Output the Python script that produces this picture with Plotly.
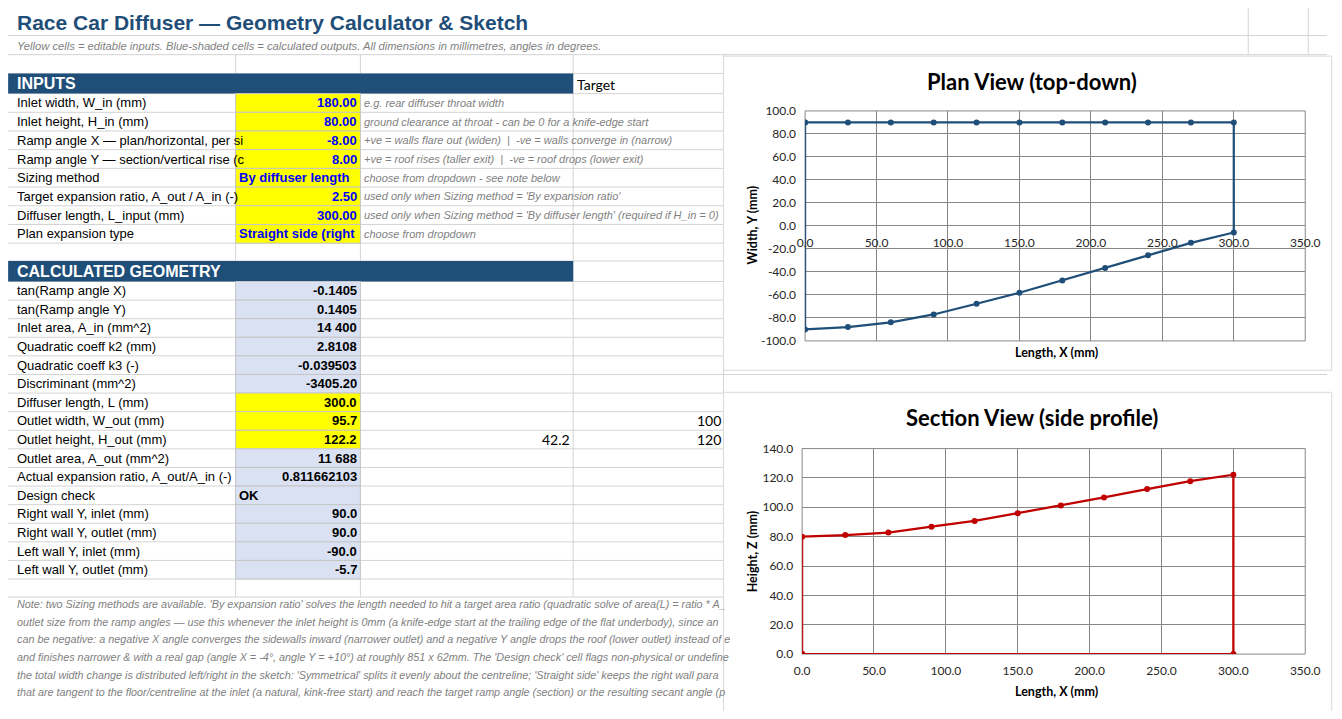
import plotly.graph_objects as go

# the page keeps the browser's 8px body margin, so the figure is drawn smaller
# than the window and every reference pixel position is shifted by OFF
PAGE_W, PAGE_H = 1342, 719
OFF = 8
W, H = PAGE_W - 2 * OFF, PAGE_H - 2 * OFF

TITLE = "Race Car Diffuser — Geometry Calculator & Sketch"
SUBTITLE = ("Yellow cells = editable inputs. Blue-shaded cells = calculated outputs. "
            "All dimensions in millimetres, angles in degrees.")

INPUT_LABELS = [
    "Inlet width, W_in (mm)",
    "Inlet height, H_in (mm)",
    "Ramp angle X — plan/horizontal, per si",
    "Ramp angle Y — section/vertical rise (c",
    "Sizing method",
    "Target expansion ratio, A_out / A_in (-)",
    "Diffuser length, L_input (mm)",
    "Plan expansion type",
]
INPUT_VALUES = ["180.00", "80.00", "-8.00", "8.00", "By diffuser length",
                "2.50", "300.00", "Straight side (right"]
INPUT_NOTES = [
    "e.g. rear diffuser throat width",
    "ground clearance at throat - can be 0 for a knife-edge start",
    "+ve = walls flare out (widen)  |  -ve = walls converge in (narrow)",
    "+ve = roof rises (taller exit)  |  -ve = roof drops (lower exit)",
    "choose from dropdown - see note below",
    "used only when Sizing method = 'By expansion ratio'",
    "used only when Sizing method = 'By diffuser length' (required if H_in = 0)",
    "choose from dropdown",
]

CALC_LABELS = [
    "tan(Ramp angle X)",
    "tan(Ramp angle Y)",
    "Inlet area, A_in (mm^2)",
    "Quadratic coeff k2 (mm)",
    "Quadratic coeff k3 (-)",
    "Discriminant (mm^2)",
    "Diffuser length, L (mm)",
    "Outlet width, W_out (mm)",
    "Outlet height, H_out (mm)",
    "Outlet area, A_out (mm^2)",
    "Actual expansion ratio, A_out/A_in (-)",
    "Design check",
    "Right wall Y, inlet (mm)",
    "Right wall Y, outlet (mm)",
    "Left wall Y, inlet (mm)",
    "Left wall Y, outlet (mm)",
]
CALC_VALUES = ["-0.1405", "0.1405", "14 400", "2.8108", "-0.039503", "-3405.20",
               "300.0", "95.7", "122.2", "11 688", "0.811662103", "OK",
               "90.0", "90.0", "-90.0", "-5.7"]
YELLOW_CALC_ROWS = [6, 7, 8]

# loose helper cells beside the calculated block: (row index, column, text)
SIDE_CELLS = [(8, "C", "42.2"), (7, "D", "100"), (8, "D", "120")]

NOTE_LINES = [
    "Note: two Sizing methods are available. 'By expansion ratio' solves the length needed to hit a target area ratio (quadratic solve of area(L) = ratio * A_",
    "outlet size from the ramp angles — use this whenever the inlet height is 0mm (a knife-edge start at the trailing edge of the flat underbody), since an",
    "can be negative: a negative X angle converges the sidewalls inward (narrower outlet) and a negative Y angle drops the roof (lower outlet) instead of e",
    "and finishes narrower & with a real gap (angle X = -4°, angle Y = +10°) at roughly 851 x 62mm. The 'Design check' cell flags non-physical or undefine",
    "the total width change is distributed left/right in the sketch: 'Symmetrical' splits it evenly about the centreline; 'Straight side' keeps the right wall para",
    "that are tangent to the floor/centreline at the inlet (a natural, kink-free start) and reach the target ramp angle (section) or the resulting secant angle (p",
]

STATION_X = [0.0, 30.0, 60.0, 90.0, 120.0, 150.0, 180.0, 210.0, 240.0, 270.0, 300.0]
RIGHT_WALL_Y = [90.0, 90.0, 90.0, 90.0, 90.0, 90.0, 90.0, 90.0, 90.0, 90.0, 90.0]
LEFT_WALL_Y = [-90.0, -88.0, -83.8, -77.0, -67.7, -58.1, -47.4, -36.5, -25.6, -14.7, -5.7]
ROOF_Z = [80.0, 81.1, 82.8, 86.8, 90.7, 96.0, 101.2, 106.7, 112.4, 117.8, 122.2]
FLOOR_X = [0.0, 300.0]
FLOOR_Z = [0.0, 0.0]

LENGTH_TICKS = [0, 50, 100, 150, 200, 250, 300, 350]
PLAN_Y_TICKS = [-100, -80, -60, -40, -20, 0, 20, 40, 60, 80, 100]
SECTION_Z_TICKS = [0, 20, 40, 60, 80, 100, 120, 140]

CELL_FONT = "Liberation Sans, Arial, sans-serif"
CHART_FONT = "Lato, Carlito, Calibri, sans-serif"
HEADER_BLUE = "#1F4E78"
GRID = "#D4D4D4"
PLOT_GRID = "#878787"
PLAN_COLOR = "#1F4E79"
SECTION_COLOR = "#C00000"

COL_X = {"A": 0, "B": 231.5, "C": 358.5, "D": 575, "E": 728}
INPUT_TOP, INPUT_ROW = 87.3, 19.1
CALC_TOP, CALC_ROW = 279.3, 19.0
PLOT_RIGHT = 1320


def fx(px):
    return (px - OFF) / W


def fy(py):
    return 1 - (py - OFF) / H


shapes = []
annotations = []


def rect(x0, y0, x1, y1, fill="rgba(0,0,0,0)", line=None):
    shapes.append({
        "type": "rect", "xref": "paper", "yref": "paper", "layer": "below",
        "x0": fx(x0), "x1": fx(x1), "y0": fy(y1), "y1": fy(y0),
        "fillcolor": fill,
        "line": {"width": 1 if line else 0, "color": line or "rgba(0,0,0,0)"},
    })


def seg(x0, y0, x1, y1, color=GRID):
    shapes.append({
        "type": "line", "xref": "paper", "yref": "paper", "layer": "below",
        "x0": fx(x0), "x1": fx(x1), "y0": fy(y0), "y1": fy(y1),
        "line": {"width": 1, "color": color},
    })


def text(x, y, s, size=13, color="#000000", family=CELL_FONT, bold=False,
         italic=False, anchor="left", angle=0):
    annotations.append({
        "x": fx(max(x, OFF)), "y": fy(y), "xref": "paper", "yref": "paper",
        "text": s, "showarrow": False, "xanchor": anchor, "yanchor": "middle",
        "textangle": angle, "borderpad": 0,
        "font": {"size": size, "color": color, "family": family,
                 "weight": "bold" if bold else "normal",
                 "style": "italic" if italic else "normal"},
    })


# ---- spreadsheet grid ----
row_lines = [28, 47.5, 66.7, INPUT_TOP]
row_lines += [INPUT_TOP + INPUT_ROW * (k + 1) for k in range(len(INPUT_LABELS))]
row_lines += [258.3, CALC_TOP]
row_lines += [CALC_TOP + CALC_ROW * (k + 1) for k in range(len(CALC_LABELS))]
row_lines += [601.7]
for y in row_lines:
    seg(0, y, PAGE_W, y)
for x in (COL_X["B"], COL_X["C"], COL_X["D"], COL_X["E"]):
    seg(x, 47.5, x, 601.7)
for x in (1262, 1323):
    seg(x, 0, x, 47.5)

# header bars
rect(0, 66.7, COL_X["D"], 87.3, HEADER_BLUE)
rect(0, 258.3, COL_X["D"], CALC_TOP, HEADER_BLUE)

# input cells
for i in range(len(INPUT_LABELS)):
    top = INPUT_TOP + INPUT_ROW * i
    rect(COL_X["B"], top, COL_X["C"], top + INPUT_ROW, "#FFFF00", "#C6C6C6")
    mid = top + INPUT_ROW / 2
    text(5, mid, INPUT_LABELS[i])
    val = INPUT_VALUES[i]
    numeric = val.replace(".", "").lstrip("-").isdigit()
    if numeric:
        text(356, mid, val, color="#0000FF", bold=True, anchor="right")
    else:
        text(234, mid, val, color="#0000FF", bold=True)
    text(361, mid, INPUT_NOTES[i], size=11, color="#7F7F7F", italic=True)

# calculated cells
for i in range(len(CALC_LABELS)):
    top = CALC_TOP + CALC_ROW * i
    fill = "#FFFF00" if i in YELLOW_CALC_ROWS else "#D9E1F2"
    rect(COL_X["B"], top, COL_X["C"], top + CALC_ROW, fill, "#C6C6C6")
    mid = top + CALC_ROW / 2
    text(5, mid, CALC_LABELS[i])
    val = CALC_VALUES[i]
    if val.replace(" ", "").replace(".", "").lstrip("-").isdigit():
        text(356, mid, val, bold=True, anchor="right")
    else:
        text(234, mid, val, bold=True)

for row, col, val in SIDE_CELLS:
    mid = CALC_TOP + CALC_ROW * (row + 0.5)
    right = COL_X["D"] if col == "C" else COL_X["E"]
    text(right - 2, mid, val, size=14, family=CHART_FONT, anchor="right")

# titles / headers / notes
text(4, 15, TITLE, size=21, color="#1F4E79", bold=True)
text(5, 39, SUBTITLE, size=11.2, color="#7F7F7F", italic=True)
text(4, 77, "INPUTS", size=16, color="#FFFFFF", bold=True)
text(4, 268.8, "CALCULATED GEOMETRY", size=16, color="#FFFFFF", bold=True)
text(578, 78, "Target", size=14, family=CHART_FONT)
for k, line in enumerate(NOTE_LINES):
    text(5, 609 + 18 * k, line, size=10.8, color="#7F7F7F", italic=True)

# ---- chart areas ----
rect(728, 49, PAGE_W + 5, 370, "#FFFFFF", "#D9D9D9")
rect(728, 392.5, PAGE_W + 5, PAGE_H + 5, "#FFFFFF", "#D9D9D9")
for ax in ("", "2"):
    shapes.append({
        "type": "rect", "xref": f"x{ax} domain", "yref": f"y{ax} domain",
        "x0": 0, "x1": 1, "y0": 0, "y1": 1, "layer": "below",
        "line": {"width": 1, "color": PLOT_GRID},
    })

text(1042, 75, "Plan View (top-down)", size=22, family=CHART_FONT, bold=True, anchor="center")
text(1042, 418, "Section View (side profile)", size=22, family=CHART_FONT, bold=True, anchor="center")
text(1067, 352, "Length, X (mm)", size=12.5, family=CHART_FONT, bold=True, anchor="center")
text(1067, 698, "Length, X (mm)", size=12.5, family=CHART_FONT, bold=True, anchor="center")
text(757, 222, "Width, Y (mm)", size=12.5, family=CHART_FONT, bold=True, anchor="center", angle=-90)
text(757, 555, "Height, Z (mm)", size=12.5, family=CHART_FONT, bold=True, anchor="center", angle=-90)

fig = go.Figure()

plan_x = STATION_X + STATION_X[::-1] + [STATION_X[0]]
plan_y = RIGHT_WALL_Y + LEFT_WALL_Y[::-1] + [RIGHT_WALL_Y[0]]
fig.add_trace(go.Scatter(
    x=plan_x, y=plan_y, mode="lines+markers", xaxis="x", yaxis="y",
    line={"color": PLAN_COLOR, "width": 2.25},
    marker={"color": PLAN_COLOR, "size": 6}, hoverinfo="skip",
))

section_x = [FLOOR_X[0]] + STATION_X + [FLOOR_X[1], FLOOR_X[0]]
section_z = [FLOOR_Z[0]] + ROOF_Z + [FLOOR_Z[1], FLOOR_Z[0]]
fig.add_trace(go.Scatter(
    x=section_x, y=section_z, mode="lines+markers", xaxis="x2", yaxis="y2",
    line={"color": SECTION_COLOR, "width": 2.25},
    marker={"color": SECTION_COLOR, "size": 6}, hoverinfo="skip",
))

tick_font = {"family": CHART_FONT, "size": 12, "color": "#262626"}
plan_dom = [fy(340), fy(105)]
axis_common = {
    "showgrid": True, "gridcolor": PLOT_GRID, "gridwidth": 1, "ticks": "",
    "showline": False, "tickfont": tick_font, "fixedrange": True,
    "ticklabelstandoff": 8, "ticklabeloverflow": "allow",
}

fig.update_layout(
    width=W, height=H, autosize=False,
    margin={"l": 0, "r": 0, "t": 0, "b": 0},
    paper_bgcolor="white", plot_bgcolor="rgba(0,0,0,0)",
    showlegend=False, shapes=shapes, annotations=annotations,
    xaxis={**axis_common, "domain": [fx(811), fx(PLOT_RIGHT)], "range": [0, 350],
           "tickvals": LENGTH_TICKS, "ticktext": [f"{v:.1f}" for v in LENGTH_TICKS],
           "anchor": "free", "position": (plan_dom[0] + plan_dom[1]) / 2,
           "zeroline": False},
    yaxis={**axis_common, "domain": plan_dom, "range": [-100, 100], "anchor": "x",
           "tickvals": PLAN_Y_TICKS, "ticktext": [f"{v:.1f}" for v in PLAN_Y_TICKS],
           "zeroline": True, "zerolinecolor": PLOT_GRID, "zerolinewidth": 1},
    xaxis2={**axis_common, "domain": [fx(808), fx(PLOT_RIGHT)], "range": [0, 350],
            "anchor": "y2", "tickvals": LENGTH_TICKS,
            "ticktext": [f"{v:.1f}" for v in LENGTH_TICKS], "zeroline": False},
    yaxis2={**axis_common, "domain": [fy(660), fy(450)], "range": [0, 140],
            "anchor": "x2", "tickvals": SECTION_Z_TICKS,
            "ticktext": [f"{v:.1f}" for v in SECTION_Z_TICKS], "zeroline": False},
)

fig.write_html("out.html", config={"displayModeBar": False})
